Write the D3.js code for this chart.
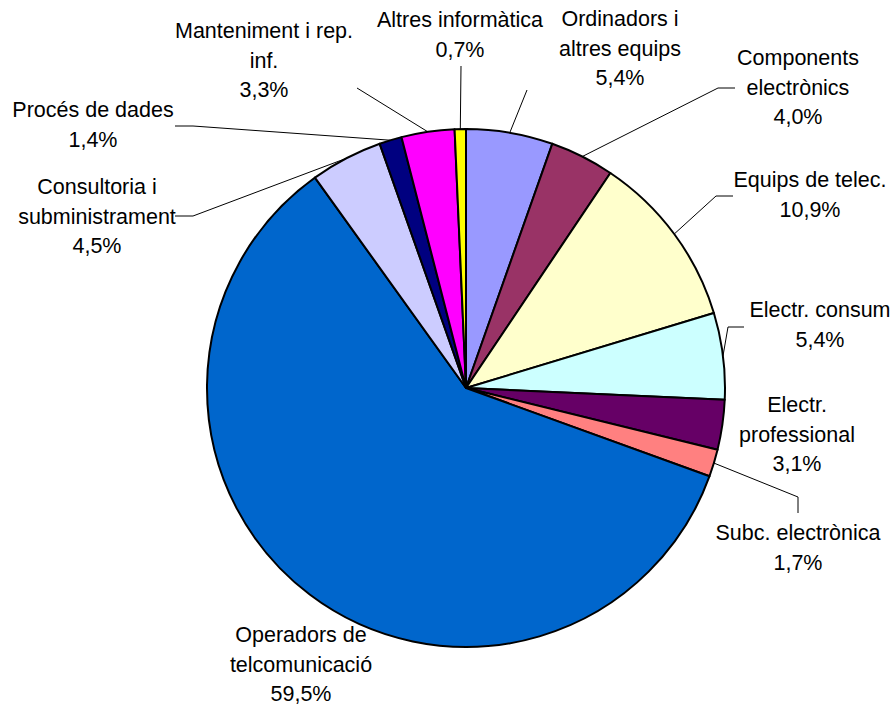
<!DOCTYPE html>
<html>
<head>
<meta charset="utf-8">
<script src="https://cdn.jsdelivr.net/npm/d3@7"></script>
<style>
html,body{margin:0;padding:0;background:#fff;}
svg{display:block;}
text{font-family:"Liberation Sans",Arial,sans-serif;font-size:21.5px;fill:#000;}
</style>
</head>
<body>
<svg id="chart" width="894" height="706"></svg>
<script>
// ---- data ----
const categories = [
  ["Ordinadors i", "altres equips"],
  ["Components", "electrònics"],
  ["Equips de telec."],
  ["Electr. consum"],
  ["Electr.", "professional"],
  ["Subc. electrònica"],
  ["Operadors de", "telcomunicació"],
  ["Consultoria i", "subministrament"],
  ["Procés de dades"],
  ["Manteniment i rep.", "inf."],
  ["Altres informàtica"]
];
const values = [5.4, 4.0, 10.9, 5.4, 3.1, 1.7, 59.5, 4.5, 1.4, 3.3, 0.7];
const colors = ["#9999FF","#993366","#FFFFCC","#CCFFFF","#660066","#FF8080",
                "#0066CC","#CCCCFF","#000080","#FF00FF","#FFFF00"];

// ---- layout (presentation only) ----
const cx = 466, cy = 388, R = 259;
// label anchor: center x, first baseline y
const labelPos = [
  [620, 26], [798, 65], [810, 187], [820, 317], [797, 412], [798, 540],
  [301, 642], [97, 194], [93, 117], [264, 38], [460, 27]
];
// leader line start points (label side), optionally with elbow
const leaders = [
  [[527, 90]],
  [[735, 88], [718, 88]],
  [[733, 196], [716, 196]],
  [[744, 327], [728, 327]],
  null,
  [[798, 513], [798, 497]],
  null,
  [[175, 216], [193, 216]],
  [[175, 126], [193, 126]],
  [[357, 88]],
  [[461, 66]]
];
const lineH = 29.7;

const svg = d3.select("#chart");
const g = svg.append("g").attr("transform", `translate(${cx},${cy})`);

const pie = d3.pie().sort(null).value(d => d);
const arcs = pie(values);
const arc = d3.arc().innerRadius(0).outerRadius(R);

g.selectAll("path.slice").data(arcs).enter().append("path")
  .attr("class", "slice")
  .attr("d", arc)
  .attr("fill", (d, i) => colors[i])
  .attr("stroke", "#000")
  .attr("stroke-width", 2)
  .attr("stroke-linejoin", "round");

const fmt = v => d3.format(".1f")(v).replace(".", ",") + "%";

// leader lines
arcs.forEach((d, i) => {
  if (!leaders[i]) return;
  const a = (d.startAngle + d.endAngle) / 2;
  const end = [cx + R * Math.sin(a), cy - R * Math.cos(a)];
  const pts = leaders[i].concat([end]);
  svg.append("path")
    .attr("d", d3.line()(pts))
    .attr("fill", "none")
    .attr("stroke", "#000")
    .attr("stroke-width", 1);
});

// labels
arcs.forEach((d, i) => {
  const lines = categories[i].concat([fmt(values[i])]);
  const [x, y] = labelPos[i];
  const t = svg.append("text").attr("text-anchor", "middle");
  lines.forEach((s, k) => {
    t.append("tspan").attr("x", x).attr("y", y + k * lineH).text(s);
  });
});
</script>
</body>
</html>
